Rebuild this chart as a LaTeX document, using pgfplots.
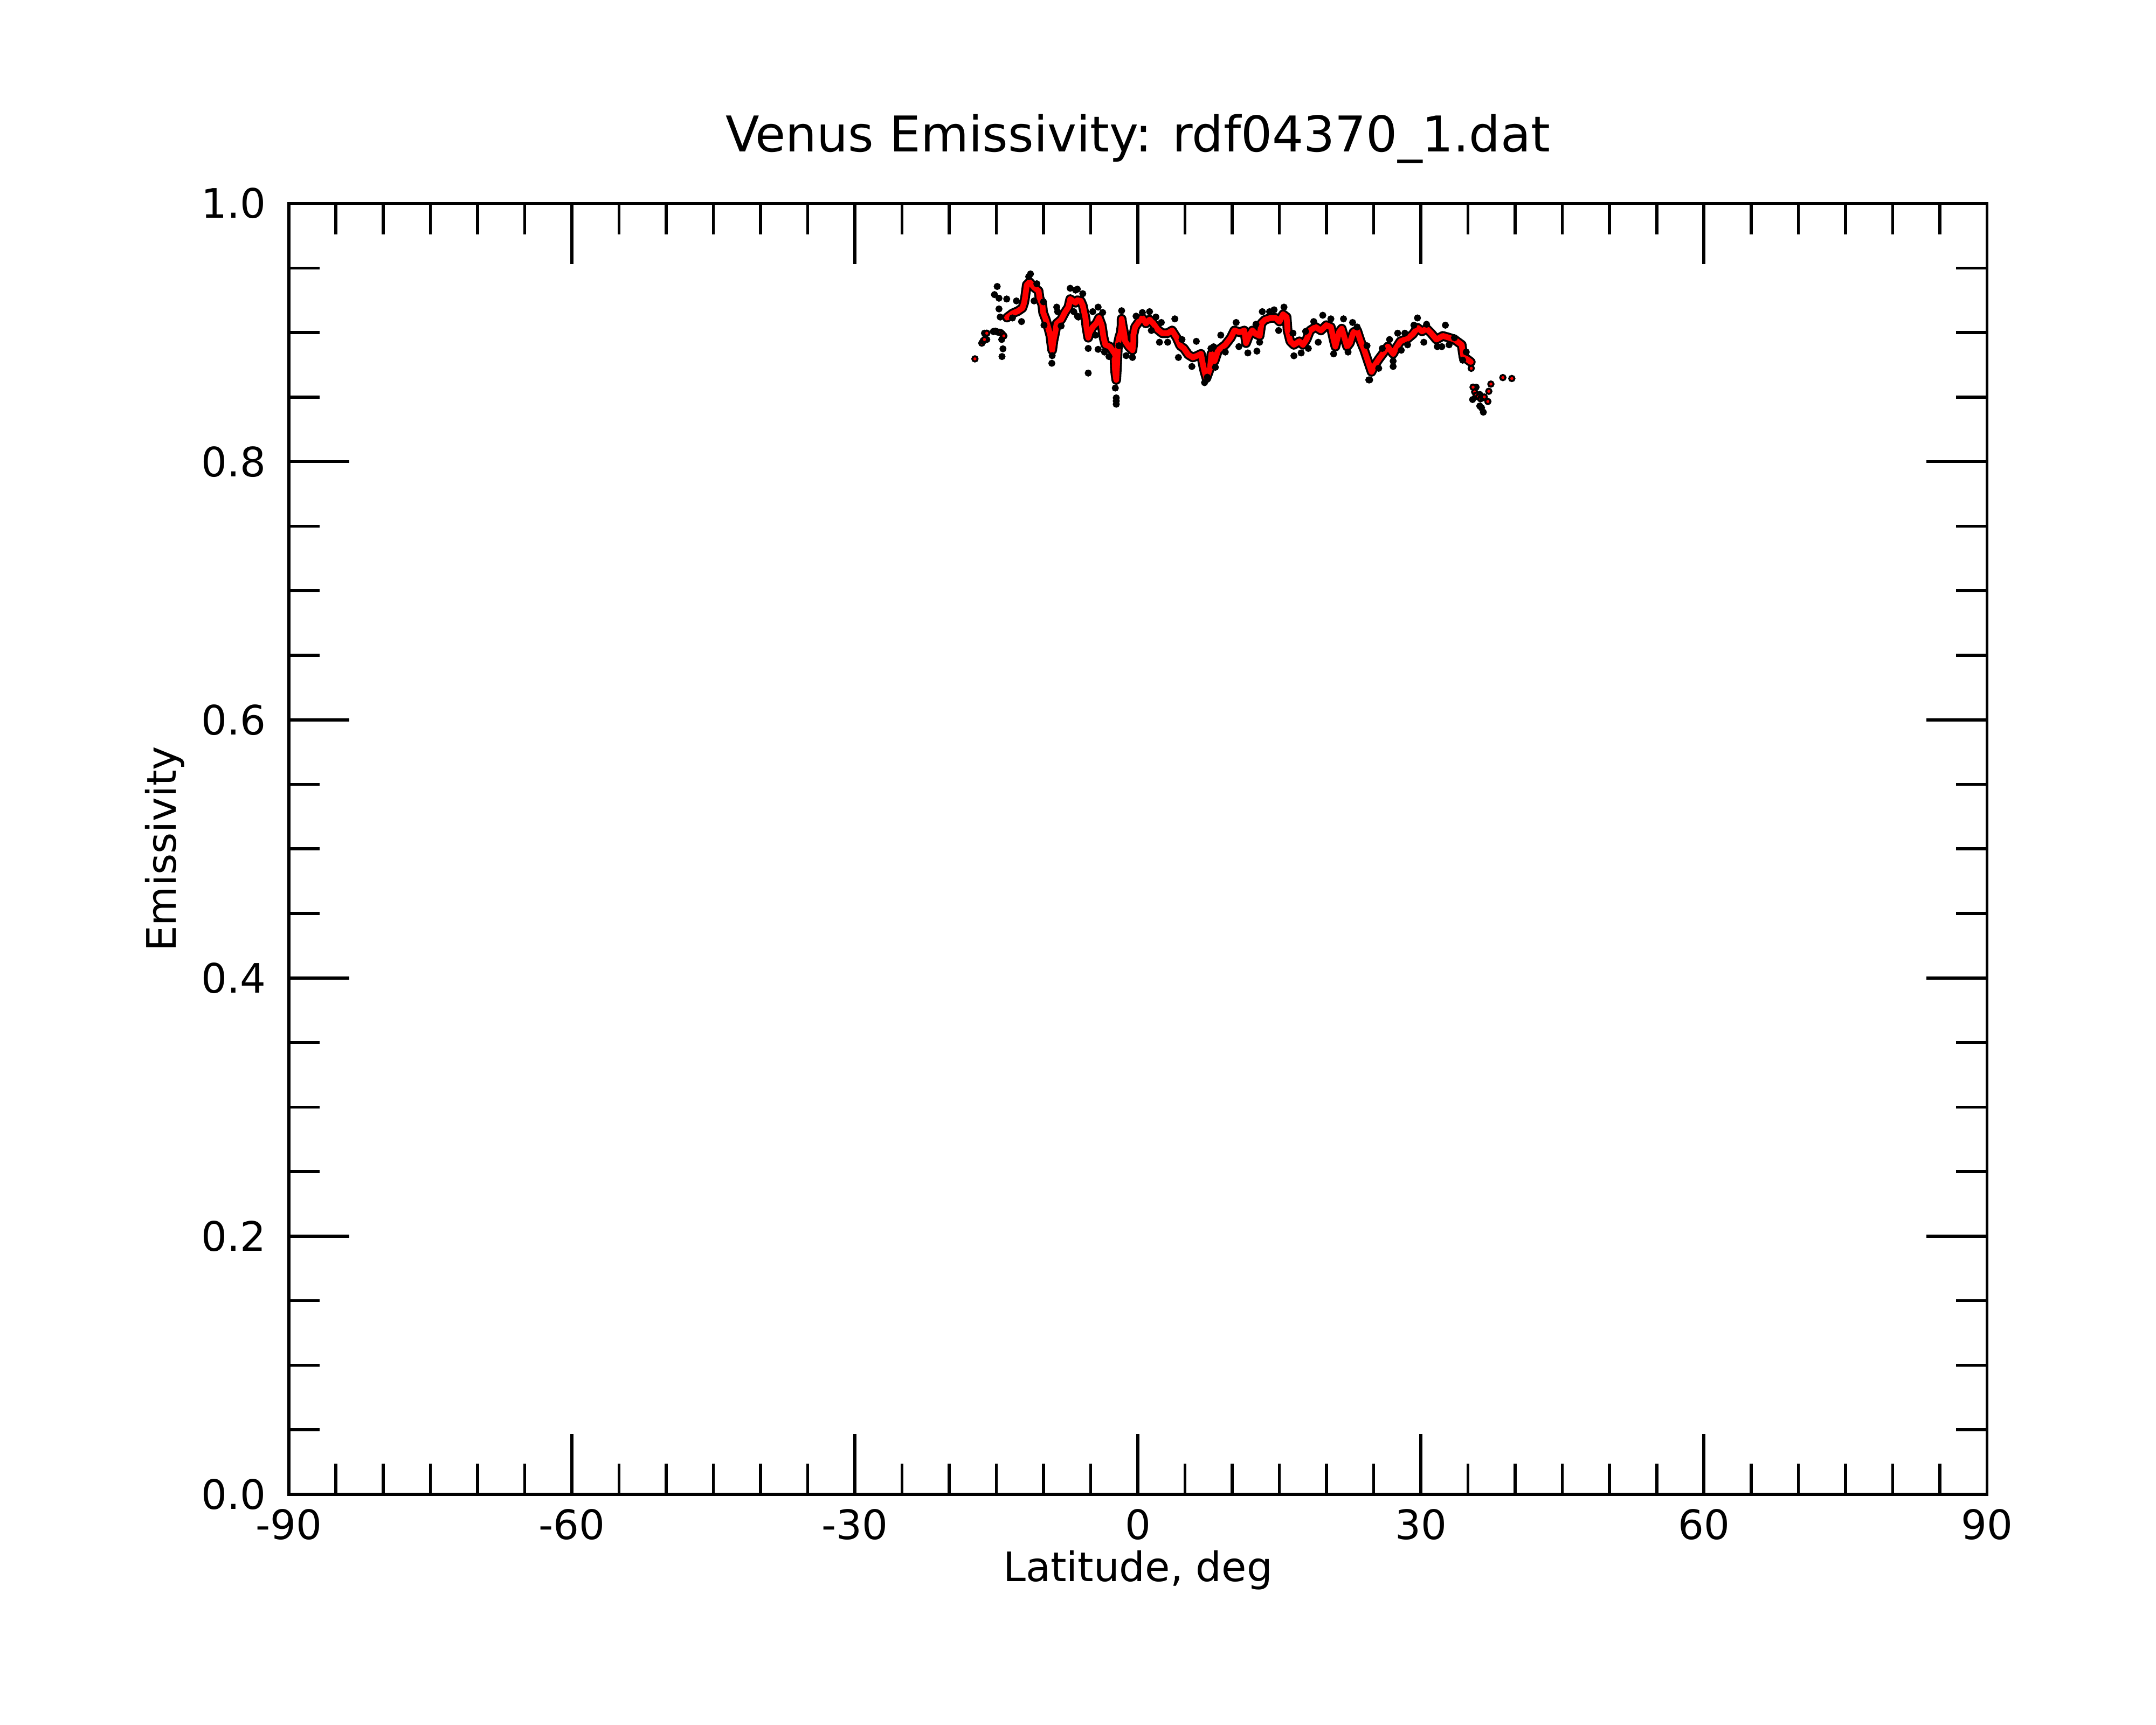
\documentclass[border=0pt]{standalone}
\usepackage{pgfplots}
\pgfplotsset{compat=1.18}
\usepackage{pgfplotstable}
\usepackage{fontspec}
\setmainfont{DejaVu Sans}

\pgfplotstableread{
x y
-13.87 0.9116
-13.29 0.9148
-12.72 0.9166
-12.24 0.9190
-12.05 0.9231
-11.95 0.9273
-11.77 0.9370
-11.48 0.9391
-11.00 0.9350
-10.52 0.9322
-10.42 0.9266
-10.13 0.9217
-10.04 0.9155
-9.75 0.9100
-9.47 0.9030
-9.27 0.8974
-9.18 0.8918
-9.08 0.8863
-8.95 0.8935
-8.74 0.9009
-8.60 0.9071
-8.13 0.9100
-7.74 0.9155
-7.36 0.9197
-7.17 0.9259
-6.60 0.9231
-6.41 0.9250
-6.05 0.9245
-5.84 0.9210
-5.55 0.9113
-5.45 0.9043
-5.26 0.8960
-5.10 0.9000
-4.78 0.9043
-4.40 0.9071
-4.11 0.9113
-3.83 0.9057
-3.63 0.8960
-3.44 0.8905
-2.96 0.8891
-2.58 0.8849
-2.48 0.8820
-2.43 0.8720
-2.38 0.8682
-2.29 0.8633
-2.19 0.8772
-2.10 0.8918
-1.95 0.8970
-1.82 0.8995
-1.72 0.9057
-1.72 0.9106
-1.60 0.9050
-1.47 0.9002
-1.34 0.8932
-0.96 0.8891
-0.57 0.8863
-0.48 0.8925
-0.48 0.8980
-0.29 0.9043
0.19 0.9092
0.48 0.9113
0.86 0.9071
1.24 0.9100
1.63 0.9071
2.10 0.9023
2.58 0.8995
3.16 0.8995
3.63 0.9016
4.11 0.8960
4.49 0.8898
4.88 0.8877
5.35 0.8828
5.83 0.8807
6.31 0.8821
6.69 0.8835
6.88 0.8758
7.07 0.8696
7.27 0.8647
7.65 0.8723
7.80 0.8835
8.13 0.8779
8.51 0.8863
9.27 0.8905
9.85 0.8960
10.23 0.9016
10.80 0.9002
11.28 0.9016
11.47 0.8918
11.76 0.8974
12.14 0.9016
12.52 0.8988
12.91 0.8974
13.10 0.9071
13.48 0.9099
14.06 0.9113
14.63 0.9113
15.01 0.9085
15.39 0.9141
15.77 0.9120
15.87 0.9016
16.16 0.8932
16.54 0.8905
17.12 0.8932
17.50 0.8905
17.88 0.8946
18.26 0.9016
18.84 0.9043
19.41 0.9016
19.98 0.9057
20.46 0.9043
20.75 0.8946
20.94 0.8891
21.32 0.9002
21.61 0.9030
21.90 0.8960
22.18 0.8891
22.47 0.8918
22.85 0.9002
23.24 0.9016
23.62 0.8932
24.00 0.8863
24.38 0.8780
24.77 0.8696
25.15 0.8751
25.53 0.8793
26.10 0.8849
26.49 0.8891
27.06 0.8835
27.35 0.8877
27.83 0.8932
28.59 0.8953
29.16 0.8988
29.64 0.9037
30.12 0.9009
30.60 0.9030
31.08 0.8995
31.65 0.8946
32.32 0.8974
32.99 0.8960
33.56 0.8946
34.33 0.8905
34.43 0.8849
34.52 0.8807
34.90 0.8793
35.29 0.8772
}\redpath

\pgfplotstableread{
x y
-17.27 0.8796
-16.54 0.8918
-16.40 0.8935
-16.26 0.8946
-16.01 0.8995
-15.30 0.9008
-15.10 0.9010
-14.90 0.9005
-14.70 0.9002
-14.53 0.9000
-14.35 0.8988
-14.20 0.8974
35.34 0.8723
35.53 0.8577
35.70 0.8540
35.86 0.8515
36.10 0.8500
36.33 0.8487
36.55 0.8495
36.72 0.8501
37.10 0.8466
37.20 0.8545
37.42 0.8601
38.69 0.8651
39.64 0.8644
}\redpts

\pgfplotstableread{
x y
-14.91 0.9357
-15.20 0.9294
-14.72 0.9266
-13.90 0.9260
-14.72 0.9183
-14.59 0.9120
-12.87 0.9245
-12.33 0.9085
-13.29 0.9113
-16.26 0.8995
-16.01 0.8946
-14.43 0.8946
-14.30 0.8874
-14.40 0.8814
-11.38 0.9454
-11.57 0.9433
-10.71 0.9378
-11.00 0.9245
-10.00 0.9238
-9.95 0.9057
-9.08 0.8821
-9.12 0.8762
-8.60 0.9197
-8.51 0.9162
-8.13 0.9051
-7.17 0.9343
-6.60 0.9329
-6.79 0.9162
-6.41 0.9127
-6.41 0.9336
-5.84 0.9301
-6.31 0.9120
-5.26 0.8877
-5.26 0.8686
-4.78 0.9162
-4.21 0.9197
-3.73 0.9155
-4.49 0.8980
-4.21 0.8870
-3.54 0.8849
-3.06 0.8814
-2.39 0.8570
-2.29 0.8494
-2.29 0.8470
-2.29 0.8445
-1.72 0.9169
-2.00 0.8898
-1.24 0.8821
-0.57 0.8807
-0.19 0.9127
0.48 0.9155
1.24 0.9162
1.91 0.9120
2.49 0.9078
1.43 0.9016
2.29 0.8925
3.16 0.8925
3.92 0.9106
4.68 0.8946
4.30 0.8807
5.73 0.8737
6.20 0.8932
7.07 0.8612
7.75 0.8877
7.36 0.8654
8.03 0.8890
8.22 0.8731
8.79 0.8980
9.27 0.8849
10.42 0.9078
10.71 0.8891
11.66 0.8842
12.52 0.9064
12.62 0.8856
12.91 0.8925
13.19 0.9162
13.96 0.9162
14.44 0.9176
14.92 0.9016
15.49 0.9197
16.44 0.8995
16.54 0.8820
17.31 0.8842
17.78 0.9009
18.07 0.8877
18.64 0.9085
19.12 0.8925
19.60 0.9134
20.46 0.9106
20.75 0.8835
21.80 0.9106
22.28 0.8849
22.76 0.9078
23.24 0.9043
24.29 0.8898
24.48 0.8633
24.57 0.8633
25.53 0.8723
25.91 0.8877
26.68 0.8946
27.06 0.8737
27.06 0.8779
27.54 0.8995
27.92 0.8863
28.30 0.8995
28.59 0.8905
29.26 0.9057
29.64 0.9113
30.31 0.8925
30.60 0.9064
31.74 0.8891
32.22 0.8891
32.60 0.9057
32.99 0.8905
33.56 0.8960
34.81 0.8849
34.43 0.8786
35.86 0.8577
35.48 0.8481
36.24 0.8521
36.24 0.8431
36.62 0.8383
36.43 0.8417
}\blackpts

\begin{document}
\begin{tikzpicture}
\useasboundingbox (0,0) rectangle (156.8mm,125.44mm);
\begin{axis}[
  at={(21.0mm,16.74mm)}, anchor=south west,
  width=123.5mm, height=93.9mm, scale only axis,
  xmin=-90, xmax=90, ymin=0, ymax=1,
  xtick={-90,-60,-30,0,30,60,90},
  xticklabels={-90,-60,-30,0,30,60,90},
  ytick={0,0.2,0.4,0.6,0.8,1.0},
  yticklabels={0.0,0.2,0.4,0.6,0.8,1.0},
  minor x tick num=5, minor y tick num=3,
  tick align=inside, tick pos=both,
  major tick length=4.4mm, minor tick length=2.25mm,
  axis line style={line width=0.62pt, black},
  tick style={line width=0.62pt, black},
  tick label style={font=\fontsize{8.4}{10}\selectfont, inner sep=0pt},
  xticklabel style={yshift=-1.0mm},
  yticklabel style={xshift=-1.6mm},
]
\addplot[black, line width=2.0pt, line join=round, line cap=round, no marks] table[x=x,y=y] {\redpath};
\addplot[only marks, mark=*, mark size=0.52pt, mark options={draw=none, fill=black}] table[x=x,y=y] {\blackpts};
\addplot[red, line width=1.2pt, line join=round, line cap=round, no marks] table[x=x,y=y] {\redpath};
\addplot[only marks, mark=*, mark size=0.55pt, mark options={draw=none, fill=red}] table[x=x,y=y] {\redpts};
\end{axis}
\node[anchor=base, inner sep=0pt, font=\fontsize{10.2}{12}\selectfont] at (82.75mm,114.4mm) {Venus Emissivity: rdf04370\_1.dat};
\node[anchor=base, inner sep=0pt, font=\fontsize{8.4}{10}\selectfont] at (82.75mm,10.39mm) {Latitude, deg};
\node[anchor=base, rotate=90, inner sep=0pt, font=\fontsize{8.4}{10}\selectfont] at (12.81mm,63.69mm) {Emissivity};
\end{tikzpicture}
\end{document}
